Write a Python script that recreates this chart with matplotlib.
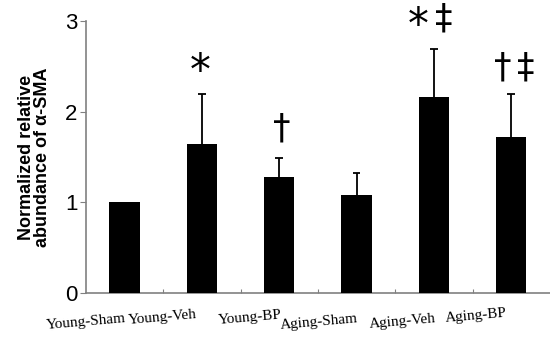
import numpy as np
import matplotlib.pyplot as plt

# group names, means and upper error (mean + SD)
groups = ['Young-Sham', 'Young-Veh', 'Young-BP', 'Aging-Sham', 'Aging-Veh', 'Aging-BP']
means = [1.0, 1.64, 1.28, 1.08, 2.16, 1.72]
err_top = [1.0, 2.2, 1.49, 1.32, 2.69, 2.2]

# significance symbols: (symbol, x, y)
sig_marks = [('*', 0.98, 2.44), ('\u2020', 2.03, 1.81),
             ('*', 3.80, 2.94), ('\u2021', 4.13, 3.03),
             ('\u2020', 4.89, 2.49), ('\u2021', 5.19, 2.49)]

x = np.arange(len(groups))

fig = plt.figure(figsize=(5.5, 3.39), dpi=100)
ax = fig.add_axes([0.156, 0.136, 0.844, 0.802])

ax.bar(x, means, width=0.39, color='black', zorder=3)
# upper error whiskers only
for i in range(len(x)):
    if err_top[i] > means[i]:
        ax.vlines(x[i], means[i], err_top[i], color='black', lw=1.3)
        ax.hlines(err_top[i], x[i] - 0.05, x[i] + 0.05, color='black', lw=1.3)

for s, sx, sy in sig_marks:
    fs = 30 if s == '*' else 25
    ax.text(sx, sy, s, ha='center', va='center', fontsize=fs,
            family='DejaVu Sans', clip_on=False)

ax.set_xlim(-0.5, 5.5)
ax.set_ylim(0, 3)
ax.set_yticks([0, 1, 2, 3])
ax.set_yticklabels(['0', '1', '2', '3'], family='Liberation Sans', fontsize=16)
ax.tick_params(axis='y', length=4, color='gray', pad=2)
ax.set_xticks(np.arange(0.5, 5.5, 1))
ax.set_xticklabels([])
ax.tick_params(axis='x', direction='in', length=3, color='gray')

for s in ['top', 'right']:
    ax.spines[s].set_visible(False)
for s in ['left', 'bottom']:
    ax.spines[s].set_color('gray')
    ax.spines[s].set_linewidth(1.2)

# slanted category labels under the axis
lab_x = [-0.49, 0.49, 1.62, 2.52, 3.59, 4.55]
lab_y = [-0.32, -0.27, -0.27, -0.32, -0.32, -0.25]
for i, g in enumerate(groups):
    ax.text(lab_x[i], lab_y[i], g, ha='center', va='center', rotation=5,
            fontsize=11, family='Liberation Serif', clip_on=False)

ax.set_ylabel('Normalized relative\nabundance of \u03b1-SMA', fontsize=13,
              fontweight='bold', family='Liberation Sans', linespacing=0.9,
              labelpad=10)

fig.savefig('out.png', dpi=100)
